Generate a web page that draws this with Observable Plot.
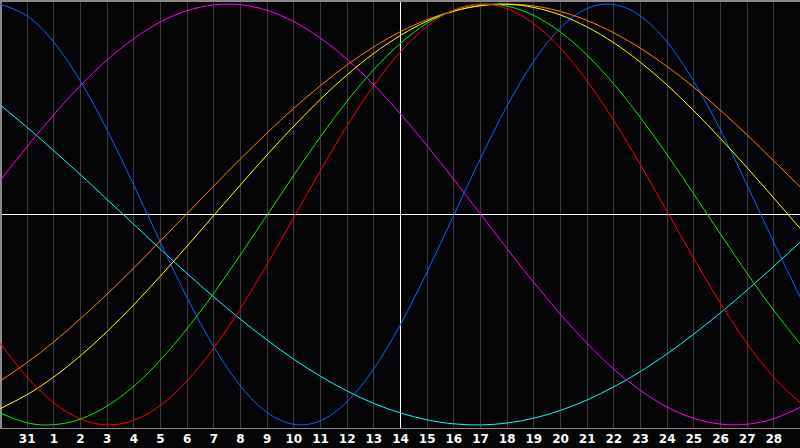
<!DOCTYPE html>
<html>
<head>
<meta charset="utf-8">
<script src="https://cdn.jsdelivr.net/npm/d3@7"></script>
<script src="https://cdn.jsdelivr.net/npm/@observablehq/plot@0.6"></script>
<style>
  html, body { margin: 0; padding: 0; background: #050508; }
  #chart { width: 800px; height: 448px; overflow: hidden; }
</style>
</head>
<body>
<div id="chart"></div>
<script>
// Day labels under the grid lines (Jan 31, then Feb 1..28)
const dayLabels = ["31","1","2","3","4","5","6","7","8","9","10","11","12","13","14",
  "15","16","17","18","19","20","21","22","23","24","25","26","27","28"];
const todayLabel = "14";

// Cycle values (%) read at each day index 0..30
const physical = [99.8,94.3,81.9,63.3,40.1,13.9,-13.3,-39.6,-62.9,-81.5,-94.1,-99.7,-98.0,-88.9,-73.3,-52.2,-27.2,-0.3,26.7,51.7,72.9,88.7,97.9,99.8,94.3,81.9,63.3,40.1,13.9,-13.3,-39.6];
const emotional = [-61.3,-77.4,-89.5,-97.2,-100,-97.8,-90.7,-79.0,-63.4,-44.6,-23.6,-1.3,20.9,42.2,61.3,77.4,89.5,97.2,100,97.8,90.7,79.0,63.4,44.6,23.6,1.3,-20.9,-42.2,-61.3,-77.4,-89.5];
const intellectual = [-94.4,-99.0,-99.9,-97.2,-91.0,-81.6,-69.1,-54.2,-37.4,-19.1,-0.2,18.7,37.0,53.9,68.9,81.4,90.9,97.1,99.9,99.0,94.6,86.7,75.7,62.0,46.0,28.4,9.7,-9.3,-28.0,-45.6,-61.7];
const intuitive = [16.3,32.3,47.5,61.3,73.5,83.6,91.5,96.9,99.6,99.7,97.0,91.6,83.8,73.7,61.6,47.8,32.6,16.6,0.2,-16.3,-32.3,-47.4,-61.3,-73.5,-83.6,-91.5,-96.9,-99.6,-99.7,-97.0,-91.6];
const aesthetic = [-92.2,-85.6,-77.2,-67.1,-55.6,-42.9,-29.2,-15.0,-0.4,14.1,28.4,42.0,54.8,66.4,76.6,85.1,91.9,96.6,99.3,99.9,98.4,94.8,89.1,81.6,72.3,61.5,49.3,36.1,22.2,7.8,-6.8];
const awareness = [-79.0,-70.3,-60.5,-49.5,-37.8,-25.4,-12.5,0.5,13.6,26.4,38.8,50.5,61.3,71.1,79.7,86.9,92.6,96.7,99.2,100,99.1,96.5,92.2,86.3,79.0,70.3,60.5,49.5,37.8,25.4,13.0];
const spiritual = [51.9,41.4,30.3,18.9,7.1,-4.7,-16.5,-28.1,-39.2,-49.8,-59.7,-68.8,-76.9,-83.9,-89.8,-94.3,-97.6,-99.5,-100,-99.1,-96.8,-93.1,-88.1,-81.9,-74.6,-66.2,-56.8,-46.7,-35.9,-24.6,-13.0];

const seriesNames = ["spiritual","intuitive","physical","awareness","aesthetic","intellectual","emotional"];
const seriesValues = [spiritual, intuitive, physical, awareness, aesthetic, intellectual, emotional];
const seriesColors = ["#00ffff","#ff00ff","#0a64ff","#ff7f00","#ffff00","#00f000","#ff0000"];

const data = seriesNames.flatMap((name, s) =>
  seriesValues[s].map((v, i) => ({name, day: i, v})));

const tickIdx = dayLabels.map((_, i) => i + 1);
const todayIdx = dayLabels.indexOf(todayLabel) + 1;
const yLim = 101.7;

const chart = Plot.plot({
  width: 800,
  height: 448,
  marginTop: 0,
  marginLeft: 0,
  marginRight: 0,
  marginBottom: 20,
  style: {
    background: "#050508",
    color: "white",
    fontFamily: "'DejaVu Sans', sans-serif"
  },
  x: {domain: [0, dayLabels.length + 1], axis: null},
  y: {domain: [-yLim, yLim], axis: null},
  color: {domain: seriesNames, range: seriesColors},
  marks: [
    Plot.ruleX(tickIdx, {stroke: "#3c3c3c", strokeWidth: 1, shapeRendering: "crispEdges"}),
    Plot.ruleY([0], {stroke: "white", strokeWidth: 1.5, shapeRendering: "crispEdges"}),
    Plot.ruleX([todayIdx], {stroke: "white", strokeWidth: 1.5, shapeRendering: "crispEdges"}),
    Plot.ruleY([yLim], {stroke: "#8a8a8a", strokeWidth: 2.5, shapeRendering: "crispEdges"}),
    Plot.ruleY([-yLim], {stroke: "#8a8a8a", strokeWidth: 1.5, shapeRendering: "crispEdges"}),
    Plot.ruleX([0], {stroke: "#8a8a8a", strokeWidth: 2.5, shapeRendering: "crispEdges"}),
    Plot.axisX(tickIdx, {
      tickSize: 0,
      tickPadding: 6,
      tickFormat: i => dayLabels[i - 1],
      fontSize: 12,
      fontWeight: "bold",
      fill: "white",
      label: null
    }),
    Plot.line(data, {x: "day", y: "v", z: "name", stroke: "name", strokeWidth: 1, curve: "natural"})
  ]
});
document.getElementById("chart").appendChild(chart);
</script>
</body>
</html>
